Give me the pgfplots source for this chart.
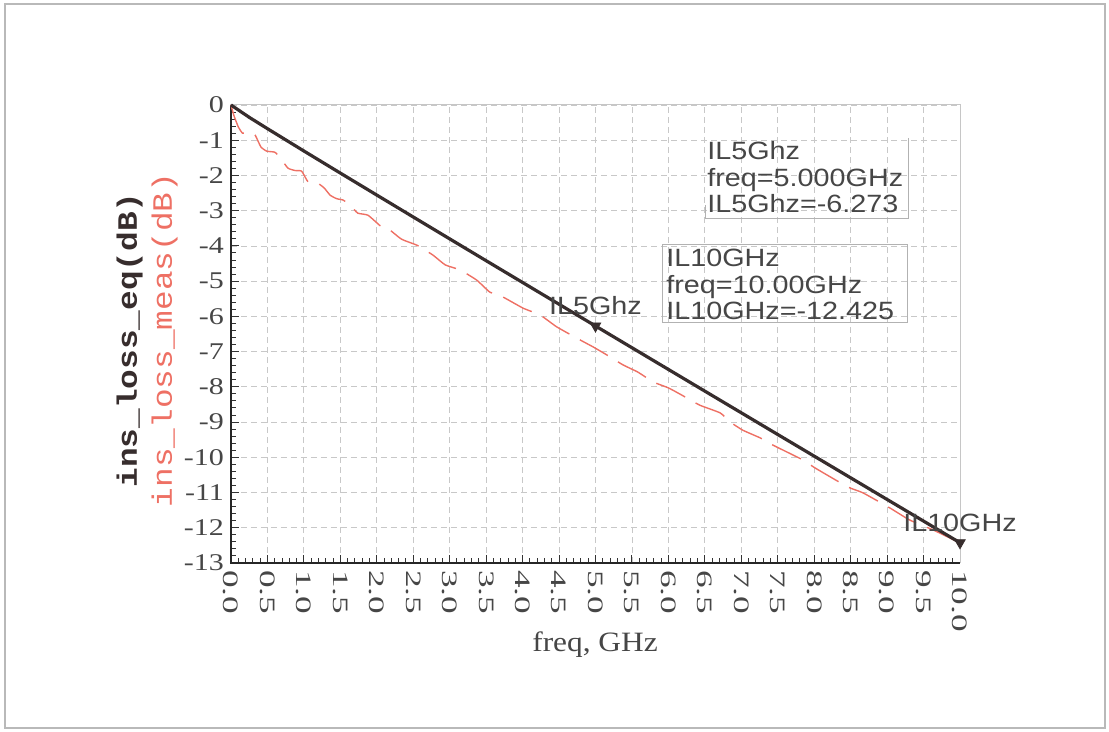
\documentclass[border=0pt]{standalone}
\usepackage{pgfplots}
\pgfplotsset{compat=1.18}
\usepackage{fontspec}
\setmainfont{Liberation Serif}
\newfontfamily\adsfont{Liberation Sans}
\newfontfamily\monofont{Liberation Mono}
\definecolor{curveblack}{RGB}{55,45,45}
\definecolor{curvered}{RGB}{238,112,100}
\definecolor{gridgray}{RGB}{200,200,200}
\definecolor{txtgray}{RGB}{70,70,70}
\newcommand{\yl}[1]{\scalebox{1.25}[1]{#1}}
\newcommand{\xl}[1]{\scalebox{1.6}[1]{#1}}
\newcommand{\al}[1]{\scalebox{1.15}[1]{#1}}
\begin{document}
\begin{tikzpicture}
\useasboundingbox (-115.5pt,-84.5pt) rectangle (439pt,281.5pt);
\draw[gray!55, line width=0.6pt] (-113pt,-82.5pt) rectangle (437pt,279.5pt);
\begin{axis}[
  at={(0pt,0pt)}, anchor=south west,
  scale only axis, width=364.5pt, height=229pt,
  xmin=0, xmax=10, ymin=-13, ymax=0,
  xtick={0,0.5,1,1.5,2,2.5,3,3.5,4,4.5,5,5.5,6,6.5,7,7.5,8,8.5,9,9.5,10},
  xticklabels={\xl{0.0},\xl{0.5},\xl{1.0},\xl{1.5},\xl{2.0},\xl{2.5},\xl{3.0},\xl{3.5},\xl{4.0},\xl{4.5},\xl{5.0},\xl{5.5},\xl{6.0},\xl{6.5},\xl{7.0},\xl{7.5},\xl{8.0},\xl{8.5},\xl{9.0},\xl{9.5},\xl{10.0}},
  ytick={-13,-12,-11,-10,-9,-8,-7,-6,-5,-4,-3,-2,-1,0},
  yticklabels={\yl{-13},\yl{-12},\yl{-11},\yl{-10},\yl{-9},\yl{-8},\yl{-7},\yl{-6},\yl{-5},\yl{-4},\yl{-3},\yl{-2},\yl{-1},\yl{0}},
  minor x tick num=4, minor y tick num=4,
  tick align=inside, xtick pos=bottom, ytick pos=left,
  major tick length=4pt, minor tick length=2.5pt,
  tick style={black!80, line width=0.5pt},
  grid=major,
  major grid style={gridgray, dash pattern=on 3pt off 2pt, line width=0.4pt},
  axis line style={gray!45, line width=0.5pt},
  xticklabel style={rotate=-90, anchor=west, font=\fontsize{11}{13}\selectfont, text=txtgray},
  yticklabel style={font=\fontsize{12}{14}\selectfont, text=txtgray},
  clip=false,
]
\draw[black!85, line width=0.9pt] (rel axis cs:0,1) -- (rel axis cs:0,0) -- (rel axis cs:1,0);
\addplot[curvered, line width=0.7pt, dash pattern=on 16pt off 6pt, smooth, tension=0.3] coordinates {
(0,0) (0.04,-0.3) (0.1,-0.62) (0.16,-0.80) (0.26,-0.77) (0.33,-0.85) (0.41,-1.19) (0.49,-1.31) (0.6,-1.34) (0.67,-1.48) (0.78,-1.79) (0.88,-1.86) (0.97,-1.88) (1.06,-2.19) (1.19,-2.22) (1.28,-2.36) (1.36,-2.56) (1.45,-2.66) (1.54,-2.70) (1.64,-2.86) (1.74,-3.07) (1.88,-3.13) (2.07,-3.47) (2.15,-3.50) (2.34,-3.81) (2.55,-3.98) (2.77,-4.26) (2.94,-4.54) (3.14,-4.68) (3.37,-4.97) (3.55,-5.31) (3.73,-5.45) (4.01,-5.77) (4.24,-5.96) (4.47,-6.30) (4.79,-6.67) (4.97,-6.87) (5.16,-7.10) (5.38,-7.38) (5.58,-7.58) (5.79,-7.86) (6.0,-8.03) (6.18,-8.23) (6.43,-8.52) (6.71,-8.74) (6.85,-9.0) (7.02,-9.23) (7.26,-9.45) (7.43,-9.65) (7.85,-10.08) (8.01,-10.3) (8.46,-10.84) (8.67,-11.01) (9.04,-11.44) (9.31,-11.78) (9.63,-12.06) (9.97,-12.40) (10,-12.43)
};
\addplot[curveblack, line width=1.6pt] coordinates {
(0,0) (0.25,-0.35) (0.5,-0.672) (1,-1.306) (1.5,-1.933) (2,-2.557) (2.5,-3.179) (3,-3.8) (3.5,-4.42) (4,-5.038) (4.5,-5.656) (5,-6.273) (5.5,-6.89) (6,-7.506) (6.5,-8.122) (7,-8.737) (7.5,-9.353) (8,-9.967) (8.5,-10.582) (9,-11.197) (9.5,-11.811) (10,-12.425)
};
\addplot[only marks, mark=triangle*, mark size=3pt, mark options={rotate=180, fill=curveblack, draw=curveblack}] coordinates {(5,-6.273) (10,-12.425)};
\node[anchor=south, inner sep=0, yshift=5.5pt, text=txtgray, font=\adsfont\fontsize{12.5}{14}\selectfont] at (axis cs:5,-6.273) {\al{IL5Ghz}};
\node[anchor=south, inner sep=0, yshift=5.5pt, text=txtgray, font=\adsfont\fontsize{12.5}{14}\selectfont] at (axis cs:10,-12.425) {\al{IL10GHz}};
\end{axis}
% y labels
\node[rotate=90, anchor=base, inner sep=0, text=curveblack] at (-47pt,111.5pt) {\monofont\bfseries\fontsize{14}{16}\selectfont\scalebox{1.17}[1]{ins\_loss\_eq(dB)}};
\node[rotate=90, anchor=base, inner sep=0, text=curvered] at (-29.5pt,111.5pt) {\monofont\fontsize{14}{16}\selectfont\scalebox{1.17}[1]{ins\_loss\_meas(dB)}};
% x label
\node[anchor=base, inner sep=0, text=txtgray] at (182pt,-44.5pt) {\fontsize{14}{16}\selectfont\scalebox{1.12}[1]{freq, GHz}};
% marker readout boxes
\draw[gray!60, line width=0.5pt] (338.5pt,212.5pt) -- (338.5pt,172pt) -- (237pt,172pt) -- (237pt,179pt);
\begin{scope}[every node/.style={anchor=base west, inner sep=0, text=txtgray, font=\adsfont\fontsize{12.5}{14}\selectfont}]
\node at (238pt,201.5pt) {\al{IL5Ghz}};
\node at (238pt,188pt) {\al{freq=5.000GHz}};
\node at (238pt,175pt) {\al{IL5Ghz=-6.273}};
\end{scope}
\draw[gray!60, line width=0.5pt] (215.5pt,120pt) rectangle (338pt,159pt);
\begin{scope}[every node/.style={anchor=base west, inner sep=0, text=txtgray, font=\adsfont\fontsize{12.5}{14}\selectfont}]
\node at (217.5pt,148pt) {\al{IL10GHz}};
\node at (217.5pt,134.5pt) {\al{freq=10.00GHz}};
\node at (217.5pt,121.5pt) {\al{IL10GHz=-12.425}};
\end{scope}
\end{tikzpicture}
\end{document}
